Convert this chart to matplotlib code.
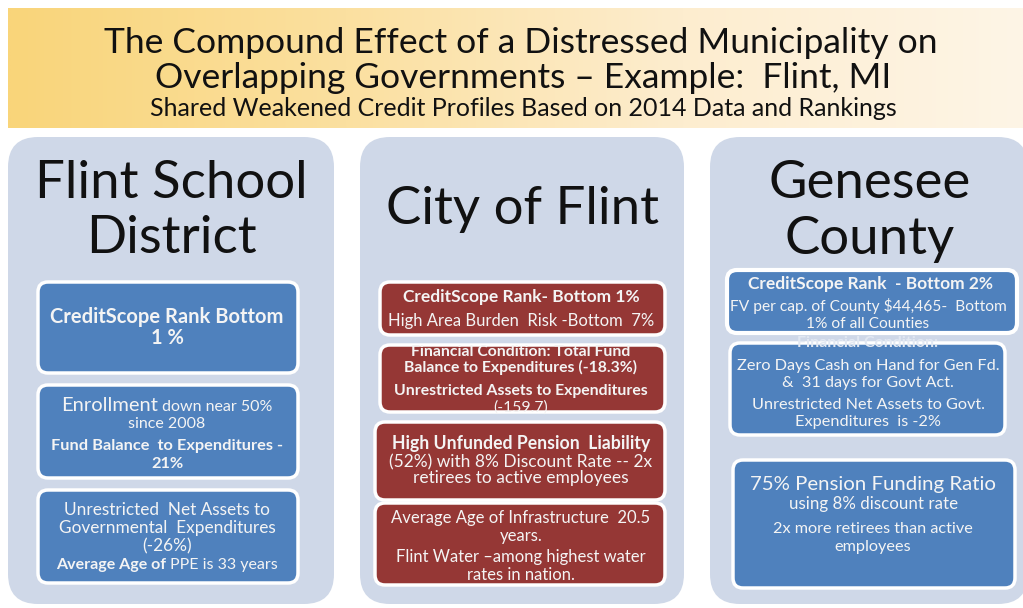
import matplotlib
matplotlib.use('Agg')
import matplotlib.pyplot as plt
from matplotlib.patches import FancyBboxPatch
from matplotlib.colors import LinearSegmentedColormap
import numpy as np

FONT = ['Lato', 'DejaVu Sans']

# ---------------- text content ----------------
title_lines = ["The Compound Effect of a Distressed Municipality on",
               "Overlapping Governments \u2013 Example:  Flint, MI"]
subtitle = "Shared Weakened Credit Profiles Based on 2014 Data and Rankings"
panel_titles = [["Flint School", "District"], ["City of Flint"], ["Genesee", "County"]]

school_box1 = ["CreditScope Rank Bottom", "1 %"]
school_box2 = ["Enrollment", " down near 50%", "since 2008",
               "Fund Balance  to Expenditures -", "21%"]
school_box3 = ["Unrestricted  Net Assets to", "Governmental  Expenditures", "(-26%)",
               "Average Age of ", "PPE is 33 years"]

city_box1 = ["CreditScope Rank- Bottom 1%", "High Area Burden  Risk -Bottom  7%"]
city_box2 = ["Financial Condition: Total Fund", "Balance to Expenditures (-18.3%)",
             "Unrestricted Assets to Expenditures", "(-159.7)"]
city_box3 = ["High Unfunded Pension  Liability", "(52%) with 8% Discount Rate -- 2x",
             "retirees to active employees"]
city_box4 = ["Average Age of Infrastructure  20.5", "years.",
             "Flint Water \u2013among highest water", "rates in nation."]

county_box1 = ["CreditScope Rank  - Bottom 2%", "FV per cap. of County $44,465-  Bottom",
               "1% of all Counties"]
county_box2 = ["Financial Condition:", "Zero Days Cash on Hand for Gen Fd.",
               "&  31 days for Govt Act.", "Unrestricted Net Assets to Govt.",
               "Expenditures  is -2%"]
county_box3 = ["75% Pension Funding Ratio", "using 8% discount rate",
               "2x more retirees than active", "employees"]

# ---------------- colours ----------------
BLUE = '#4F81BD'
RED = '#953735'
PANEL = '#CFD8E8'
TXT = '#F4F4F4'

fig = plt.figure(figsize=(10.23, 6.08), dpi=100)
ax = fig.add_axes([0, 0, 1, 1])
renderer = fig.canvas.get_renderer()

# header gradient
cmap = LinearSegmentedColormap.from_list('hdr', ['#F9D57A', '#FBE0A0', '#FDEDCF', '#FEF5E6'])
grad = np.linspace(0, 1, 512)[None, :]
ax.imshow(grad, cmap=cmap, extent=(8, 1023, 128, 8), aspect='auto', zorder=0)
ax.set_xlim(0, 1023)
ax.set_ylim(608, 0)
ax.axis('off')


def rbox(x0, y0, x1, y1, fc, ec='white', lw=2.5, r=10, z=2):
    p = FancyBboxPatch((x0, y0), x1 - x0, y1 - y0,
                       boxstyle=f"round,pad=0,rounding_size={r}",
                       fc=fc, ec=ec, lw=lw, zorder=z)
    ax.add_patch(p)


def line(xc, yc, runs, color=TXT, z=5):
    """runs: list of (text, size, weight); yc = visual centre of caps."""
    big = max(s for _, s, _ in runs)
    base = yc + 0.36 * big * 100 / 72
    items = []
    total = 0
    for s, size, weight in runs:
        t = ax.text(0, base, s, fontsize=size, fontweight=weight, family=FONT,
                    color=color, va='baseline', ha='left', zorder=z)
        w = t.get_window_extent(renderer).width
        items.append((t, w))
        total += w
    x = xc - total / 2
    for t, w in items:
        t.set_x(x)
        x += w


# header text
line(521, 40, [(title_lines[0], 25.5, 'normal')], color='#111111')
line(523, 75, [(title_lines[1], 25.5, 'normal')], color='#111111')
line(523, 107, [(subtitle, 18, 'normal')], color='#111111')

# panels
panels = [(8, 334), (360, 684), (710, 1028)]
for (x0, x1) in panels:
    rbox(x0, 137, x1, 604, PANEL, ec='none', lw=0, r=30, z=1)

TS = 38
centres = [171, 522, 870]
line(centres[0], 179, [(panel_titles[0][0], TS, 'normal')], color='#111111')
line(centres[0], 234, [(panel_titles[0][1], TS, 'normal')], color='#111111')
line(centres[1], 205, [(panel_titles[1][0], TS, 'normal')], color='#111111')
line(centres[2], 179, [(panel_titles[2][0], TS, 'normal')], color='#111111')
line(centres[2], 235, [(panel_titles[2][1], TS, 'normal')], color='#111111')

# ---- Flint School District ----
cx = 167
rbox(38, 282, 298, 373, BLUE)
line(cx, 316, [(school_box1[0], 14.5, 'bold')])
line(cx, 337, [(school_box1[1], 14.5, 'bold')])

rbox(38, 385, 298, 478, BLUE)
line(cx, 404, [(school_box2[0], 14.5, 'normal'), (school_box2[1], 11.5, 'normal')])
line(cx, 422, [(school_box2[2], 11.5, 'normal')])
line(cx, 444, [(school_box2[3], 11.8, 'bold')])
line(cx, 462, [(school_box2[4], 11.8, 'bold')])

rbox(38, 490, 298, 583, BLUE)
line(cx, 509, [(school_box3[0], 12.4, 'normal')])
line(cx, 527, [(school_box3[1], 12.4, 'normal')])
line(cx, 545, [(school_box3[2], 12.4, 'normal')])
line(cx, 563, [(school_box3[3], 11.5, 'bold'), (school_box3[4], 11.5, 'normal')])

# ---- City of Flint ----
cx = 521
rbox(380, 282, 665, 335, RED)
line(cx, 296, [(city_box1[0], 12.5, 'bold')])
line(cx, 320, [(city_box1[1], 12, 'normal')])

rbox(380, 345, 665, 412, RED)
line(cx, 350, [(city_box2[0], 11.3, 'bold')])
line(cx, 366, [(city_box2[1], 11.3, 'bold')])
line(cx, 389, [(city_box2[2], 11.3, 'bold')])
line(cx, 406, [(city_box2[3], 11.3, 'normal')])

rbox(375, 422, 665, 500, RED)
line(cx, 443, [(city_box3[0], 12.7, 'bold')])
line(cx, 461, [(city_box3[1], 12.5, 'normal')])
line(cx, 477, [(city_box3[2], 12.5, 'normal')])

rbox(375, 503, 665, 585, RED)
line(cx, 517, [(city_box4[0], 12, 'normal')])
line(cx, 535, [(city_box4[1], 12, 'normal')])
line(cx, 556, [(city_box4[2], 12, 'normal')])
line(cx, 574, [(city_box4[3], 12, 'normal')])

# ---- Genesee County ----
rbox(727, 270, 1017, 333, BLUE, lw=3)
line(871, 283, [(county_box1[0], 12.5, 'bold')])
line(868, 305, [(county_box1[1], 11.2, 'normal')])
line(868, 322, [(county_box1[2], 11.2, 'normal')])

rbox(730, 343, 1005, 435, BLUE)
line(868, 341, [(county_box2[0], 11.5, 'bold')], color='#E2E8F2')
line(868, 364, [(county_box2[1], 11.7, 'normal')])
line(868, 381, [(county_box2[2], 11.7, 'normal')])
line(868, 403, [(county_box2[3], 11.7, 'normal')])
line(868, 420, [(county_box2[4], 11.7, 'normal')])

rbox(733, 460, 1015, 588, BLUE)
line(873, 483, [(county_box3[0], 14.7, 'normal')])
line(874, 503, [(county_box3[1], 12.2, 'normal')])
line(873, 527, [(county_box3[2], 11.7, 'normal')])
line(873, 545, [(county_box3[3], 11.7, 'normal')])

fig.savefig('out.png', dpi=100)
